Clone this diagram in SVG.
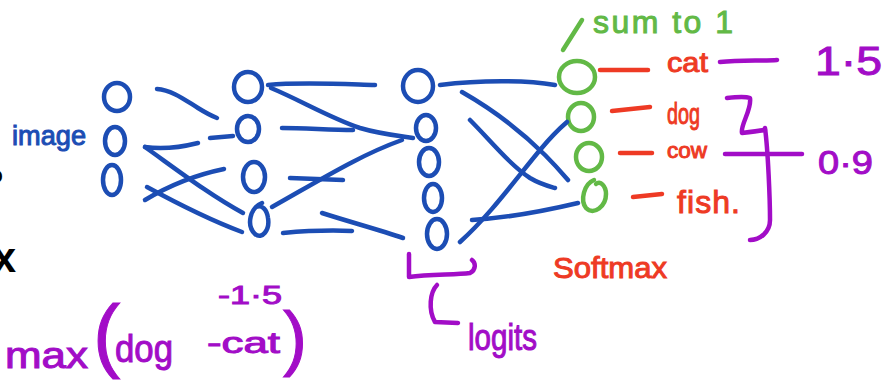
<svg xmlns="http://www.w3.org/2000/svg" width="884" height="382" viewBox="0 0 884 382">
<style>
.b{fill:none;stroke:#1c4db4;stroke-width:4.5;stroke-linecap:round;stroke-linejoin:round}
.g{fill:none;stroke:#62b946;stroke-width:4.5;stroke-linecap:round}
.r{fill:none;stroke:#ee3a24;stroke-width:4.5;stroke-linecap:round}
.p{fill:none;stroke:#a20dc7;stroke-width:4.5;stroke-linecap:round;stroke-linejoin:round}
text{font-family:"Liberation Sans","DejaVu Sans",sans-serif}
.tb{fill:#1c4db4;stroke:#1c4db4;stroke-width:1}
.tg{fill:#62b946;stroke:#62b946;stroke-width:1}
.tr{fill:#ee3a24;stroke:#ee3a24;stroke-width:1}
.tp{fill:#a20dc7;stroke:#a20dc7;stroke-width:1}
.tk{fill:#000;font-weight:bold}
</style>
<rect width="884" height="382" fill="#fff"/>
<text class="tk" x="3" y="183" font-size="24" text-anchor="end">o</text>
<text class="tk" x="16" y="272" font-size="42" text-anchor="end">x</text>
<g id="input">
<ellipse id="in1" class="b" cx="117" cy="97" rx="13" ry="14"/>
<ellipse id="in2" class="b" cx="115" cy="141" rx="10" ry="14"/>
<ellipse id="in3" class="b" cx="112" cy="180" rx="9" ry="15"/>
</g>
<g id="hidden">
<ellipse id="h1" class="b" cx="248" cy="87" rx="14" ry="15"/>
<ellipse id="h2" class="b" cx="248" cy="129" rx="11" ry="13"/>
<ellipse id="h3" class="b" cx="254" cy="177" rx="11" ry="15"/>
<path id="h4" class="b" d="M262 203 C250 208 246 225 255 234 C262 240 270 230 268 218 C267 210 262 204 256 207"/>
</g>
<g id="logits">
<ellipse id="l1" class="b" cx="418" cy="86" rx="15" ry="16"/>
<ellipse id="l2" class="b" cx="426" cy="128" rx="10" ry="13"/>
<ellipse id="l3" class="b" cx="429" cy="162" rx="10" ry="14"/>
<ellipse id="l4" class="b" cx="433" cy="198" rx="9" ry="14"/>
<ellipse id="l5" class="b" cx="437" cy="234" rx="10" ry="15"/>
</g>
<g id="softmax">
<ellipse id="s1" class="g" cx="577" cy="77" rx="18" ry="16"/>
<ellipse id="s2" class="g" cx="581" cy="117" rx="13" ry="14"/>
<ellipse id="s3" class="g" cx="589" cy="157" rx="13" ry="14"/>
<path id="s4" class="g" d="M594 180 C584 184 580 200 586 208 C594 216 606 206 606 194 C606 186 600 180 596 184"/>
</g>
<g id="connectors">
<path class="b" d="M157 89 C172 90 185 100 198 108 C206 113 212 116 217 118"/>
<path class="b" d="M210 138 L233 136"/>
<path class="b" d="M145 147 C165 150 182 147 198 143"/>
<path class="b" d="M145 147 C180 172 210 195 243 213"/>
<path class="b" d="M145 200 C170 185 195 175 224 169"/>
<path class="b" d="M147 187 C180 205 210 220 242 232"/>
<path class="b" d="M268 85 C300 82 340 84 375 85"/>
<path class="b" d="M271 88 C300 100 330 118 360 128 C380 134 400 136 413 138"/>
<path class="b" d="M282 128 C305 128 330 130 353 130"/>
<path class="b" d="M272 207 C320 180 360 155 402 140"/>
<path class="b" d="M290 178 L343 180"/>
<path class="b" d="M322 213 C350 222 380 230 403 238"/>
<path class="b" d="M283 233 C305 231 330 230 352 231"/>
<path class="b" d="M440 85 C480 80 525 80 555 85"/>
<path class="b" d="M462 92 C490 108 520 130 545 155 C555 165 562 173 568 180"/>
<path class="b" d="M470 120 C490 140 510 165 530 178 C540 184 548 186 555 188"/>
<path class="b" d="M460 242 C490 215 515 180 540 150 C550 138 560 128 567 122"/>
<path class="b" d="M472 220 C505 218 540 212 578 203"/>
</g>
<g id="annotations">
<path class="g" d="M563 50 L582 20"/>
<text class="tg" x="593" y="33" font-size="32" textLength="140" lengthAdjust="spacing">sum to 1</text>
<path class="r" d="M600 70 L648 70"/>
<path class="r" d="M612 111 L650 107"/>
<path class="r" d="M620 153 L652 153"/>
<path class="r" d="M633 197 L662 194"/>
<text class="tr" x="667" y="72" font-size="28" textLength="41" lengthAdjust="spacingAndGlyphs">cat</text>
<text class="tr" x="667" y="124" font-size="30" textLength="33" lengthAdjust="spacingAndGlyphs">dog</text>
<text class="tr" x="667" y="158" font-size="22" textLength="40" lengthAdjust="spacingAndGlyphs">cow</text>
<text class="tr" x="677" y="213" font-size="32" textLength="63" lengthAdjust="spacing">fish.</text>
<text class="tr" x="553" y="278" font-size="30" textLength="114" lengthAdjust="spacingAndGlyphs">Softmax</text>
<path class="p" d="M720 62 C740 60 760 61 777 60" stroke-width="9"/>
<text class="tp" x="815" y="75" font-size="40" textLength="67" lengthAdjust="spacingAndGlyphs">1·5</text>
<path class="p" d="M727 98 C735 97 745 96 750 98 C752 110 740 125 742 133 C750 132 758 131 765 130"/>
<path class="p" d="M765 128 C768 150 770 200 770 220 C770 232 760 240 750 240"/>
<path class="p" d="M725 154 L802 154"/>
<text class="tp" x="818" y="174" font-size="34" textLength="55" lengthAdjust="spacingAndGlyphs">0·9</text>
<text class="tb" x="12" y="145" font-size="27" textLength="74" lengthAdjust="spacingAndGlyphs">image</text>
<path class="p" d="M409 254 L409 277 C430 274 455 275 470 273 C476 270 476 263 472 260"/>
<path class="p" d="M437 285 C430 292 428 310 435 322 L458 323"/>
<text class="tp" x="468" y="350" font-size="36" textLength="69" lengthAdjust="spacingAndGlyphs">logits</text>
<text class="tp" x="218" y="304" font-size="26" textLength="64" lengthAdjust="spacingAndGlyphs">-1·5</text>
<text class="tp" x="5" y="368" font-size="36" textLength="83" lengthAdjust="spacingAndGlyphs">max</text>
<text class="tp" x="93" y="362" font-size="82">(</text>
<text class="tp" x="115" y="362" font-size="38" textLength="58" lengthAdjust="spacingAndGlyphs">dog</text>
<text class="tp" x="207" y="353" font-size="30" textLength="73" lengthAdjust="spacingAndGlyphs">-cat</text>
<text class="tp" x="283" y="362" font-size="72">)</text>
</g>
</svg>
